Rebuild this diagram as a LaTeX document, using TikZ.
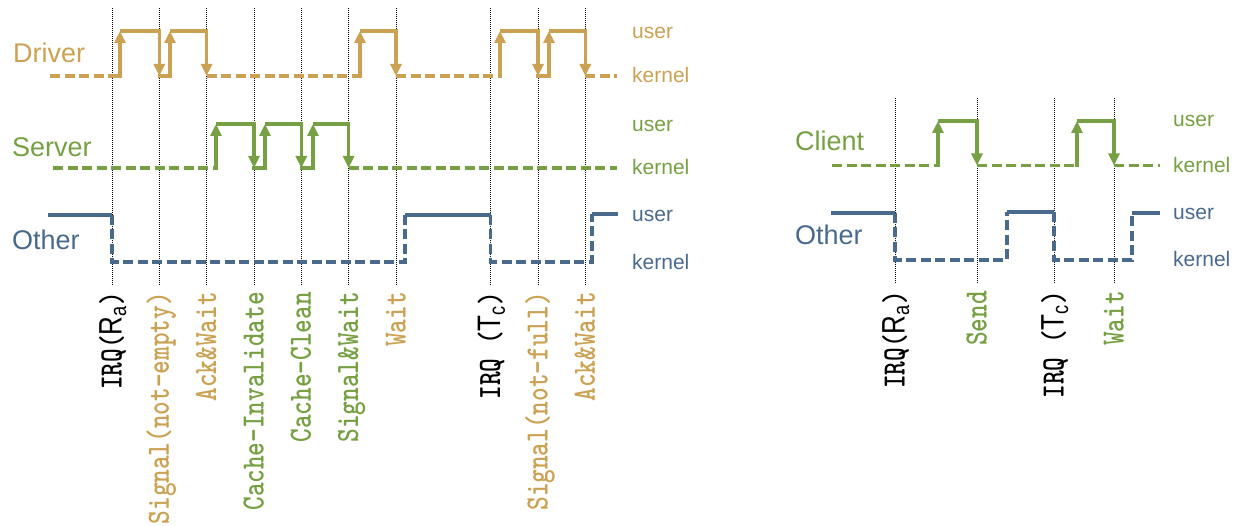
\documentclass[tikz,border=0pt]{standalone}
\usepackage{fontspec}
\usepackage{graphicx}
\newfontfamily\labfont{Liberation Sans}
\usetikzlibrary{arrows.meta}
\definecolor{drv}{HTML}{CBA153}
\definecolor{srv}{HTML}{76A043}
\definecolor{oth}{HTML}{4A6A8C}
\newcommand{\sgsub}[2]{{\labfont\mdseries #1}\textsubscript{\labfont\mdseries #2}}
% event names: typewriter face with a taller body
\newcommand{\evtext}[1]{\scalebox{1}[1.25]{#1}}
\tikzset{
  sig/.style={line width=3.5pt},
  kdash/.style={sig, dash pattern=on 10pt off 4.5pt},
  rise/.style={sig, line cap=rect, -{Triangle[width=11pt,length=12pt]}},
  fall/.style={sig, -{Triangle[width=11pt,length=12pt]}},
  evline/.style={black, line width=0.9pt, dash pattern=on 1pt off 1pt},
  task/.style={anchor=base west, inner sep=0, font=\labfont\fontsize{27}{27}\selectfont},
  mode/.style={anchor=base west, inner sep=0, font=\labfont\fontsize{21}{21}\selectfont},
  evt/.style={rotate=90, anchor=base east, inner sep=0, font=\ttfamily\bfseries\fontsize{26}{26}\selectfont},
}
\begin{document}
\begin{tikzpicture}[x=1pt,y=-1pt]
\useasboundingbox (0,0) rectangle (1239,526);

% event lines (drawn first, signals pass over them)
\foreach \x in {112,159.3,206.6,254,301.3,348.6,396,490.6,538,585.3}
  \draw[evline] (\x,8) -- (\x,286);
\foreach \x in {895,977,1054,1114}
  \draw[evline] (\x,98) -- (\x,284);

% ---------- left: Driver / Server / Other ----------
\node[task, drv] (tdrv) at (13,63) {Driver};
\node[task, srv] (tsrv) at (12,157) {Server};
\node[task, oth] (toth) at (12,250) {Other};

\node[mode, drv] (du) at (632,39) {user};
\node[mode, drv] (dk) at (632,83) {kernel};
\node[mode, srv] (su) at (632,132) {user};
\node[mode, srv] (sk) at (632,175) {kernel};
\node[mode, oth] (ou) at (632,222) {user};
\node[mode, oth] (ok) at (632,270) {kernel};

% Driver: kernel 76, user 31
\begin{scope}[drv]
  \draw[kdash] (50,76) -- (120,76);
  \draw[rise] (120,76) -- (120,31);
  \draw[fall] (120,31) -- (159.3,31) -- (159.3,76);
  \draw[rise] (159.3,76) -- (170,76) -- (170,31);
  \draw[fall] (170,31) -- (206.6,31) -- (206.6,76);
  \draw[kdash] (206.6,76) -- (360,76);
  \draw[rise] (360,76) -- (360,31);
  \draw[fall] (360,31) -- (396,31) -- (396,76);
  \draw[kdash] (396,76) -- (500,76);
  \draw[rise] (500,76) -- (500,31);
  \draw[fall] (500,31) -- (538,31) -- (538,76);
  \draw[rise] (538,76) -- (549,76) -- (549,31);
  \draw[fall] (549,31) -- (585.3,31) -- (585.3,76);
  \draw[kdash] (585.3,76) -- (617,76);
\end{scope}

% Server: kernel 168, user 124
\begin{scope}[srv]
  \draw[kdash] (53,168) -- (216,168);
  \draw[rise] (216,168) -- (216,124);
  \draw[fall] (216,124) -- (254,124) -- (254,168);
  \draw[rise] (254,168) -- (265,168) -- (265,124);
  \draw[fall] (265,124) -- (301.3,124) -- (301.3,168);
  \draw[rise] (301.3,168) -- (313,168) -- (313,124);
  \draw[fall] (313,124) -- (348.6,124) -- (348.6,168);
  \draw[kdash] (348.6,168) -- (617,168);
\end{scope}

% Other: user 215, kernel 262
\begin{scope}[oth]
  \draw[sig] (48,215) -- (112,215);
  \draw[kdash] (112,215) -- (112,262) -- (405,262) -- (405,215);
  \draw[sig] (405,215) -- (490.6,215);
  \draw[kdash] (490.6,215) -- (490.6,262) -- (592,262) -- (592,214);
  \draw[sig] (592,214) -- (618,214);
\end{scope}

% event labels
\node[evt, black] (e1)  at (121.5,292) {\evtext{IRQ(\sgsub{R}{a})}};
\node[evt, drv]   (e2)  at (168.8,292) {\evtext{Signal(not-empty)}};
\node[evt, drv]   (e3)  at (216.1,292) {\evtext{Ack\&Wait}};
\node[evt, srv]   (e4)  at (263.5,292) {\evtext{Cache-Invalidate}};
\node[evt, srv]   (e5)  at (310.8,292) {\evtext{Cache-Clean}};
\node[evt, srv]   (e6)  at (358.1,292) {\evtext{Signal\&Wait}};
\node[evt, drv]   (e7)  at (405.5,292) {\evtext{Wait}};
\node[evt, black] (e8)  at (500.1,292) {\evtext{IRQ (\sgsub{T}{c})}};
\node[evt, drv]   (e9)  at (547.5,292) {\evtext{Signal(not-full)}};
\node[evt, drv]   (e10) at (594.8,292) {\evtext{Ack\&Wait}};

% ---------- right: Client / Other ----------
\node[task, srv] (tcli) at (795,151) {Client};
\node[task, oth] (toth2) at (795,245) {Other};

\node[mode, srv] (cu) at (1173,127) {user};
\node[mode, srv] (ck) at (1173,173) {kernel};
\node[mode, oth] (ou2) at (1173,220) {user};
\node[mode, oth] (ok2) at (1173,267) {kernel};

% Client: kernel 165.5, user 121
\begin{scope}[srv]
  \draw[kdash] (832,165.5) -- (938,165.5);
  \draw[rise] (938,165.5) -- (938,121);
  \draw[fall] (938,121) -- (977,121) -- (977,165.5);
  \draw[kdash] (977,165.5) -- (1077,165.5);
  \draw[rise] (1077,165.5) -- (1077,121);
  \draw[fall] (1077,121) -- (1114,121) -- (1114,165.5);
  \draw[kdash] (1114,165.5) -- (1160,165.5);
\end{scope}

% Other: user 213, kernel 260
\begin{scope}[oth]
  \draw[sig] (831,213) -- (895,213);
  \draw[kdash] (895,213) -- (895,260) -- (1007,260) -- (1007,212);
  \draw[sig] (1007,212) -- (1054,212);
  \draw[kdash] (1054,212) -- (1054,260) -- (1132,260) -- (1132,213);
  \draw[sig] (1132,213) -- (1160,213);
\end{scope}

\node[evt, black] (r1) at (904.5,291) {\evtext{IRQ(\sgsub{R}{a})}};
\node[evt, srv]   (r2) at (986.5,291) {\evtext{Send}};
\node[evt, black] (r3) at (1063.5,291) {\evtext{IRQ (\sgsub{T}{c})}};
\node[evt, srv]   (r4) at (1123.5,291) {\evtext{Wait}};
\end{tikzpicture}
\end{document}
